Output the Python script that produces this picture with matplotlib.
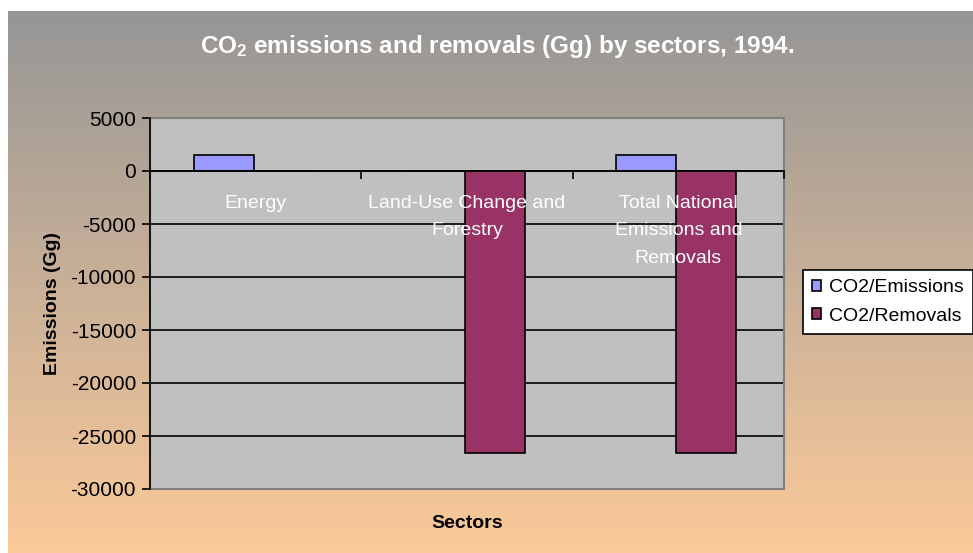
import numpy as np
import matplotlib
matplotlib.use("Agg")
import matplotlib.pyplot as plt
from matplotlib.patches import Rectangle
from matplotlib.colors import LinearSegmentedColormap

plt.rcParams['font.family'] = ['Liberation Sans', 'DejaVu Sans']
plt.rcParams['mathtext.default'] = 'regular'

# data
sectors = ["Energy", "Land-Use Change and\nForestry", "Total National\nEmissions and\nRemovals"]
emissions = [1500, 0, 1500]
removals = [0, -26650, -26650]
series_names = ["CO2/Emissions", "CO2/Removals"]
yticks = [5000, 0, -5000, -10000, -15000, -20000, -25000, -30000]

fig = plt.figure(figsize=(9.73, 5.53), dpi=100)

# gradient background (gray -> light orange)
bg = fig.add_axes([8/973, 0, 1 - 8/973, 1 - 11/553], zorder=-10)
cmap = LinearSegmentedColormap.from_list("bg", ["#969696", "#FFCC99"])
grad = np.linspace(0, 1, 256).reshape(-1, 1)
bg.imshow(grad, aspect="auto", cmap=cmap, extent=[0, 1, 0, 1], origin="upper", vmin=0, vmax=1.04)
bg.set_axis_off()

ax = fig.add_axes([150/973, 1 - 489/553, 634/973, 371/553])
ax.set_facecolor("#C0C0C0")

x = np.arange(len(sectors))
w = 0.284
ax.bar(x - w/2 - 0.01, emissions, w, color="#9999FF", edgecolor="black", linewidth=1.2, zorder=3, label=series_names[0])
ax.bar(x + w/2 - 0.01, removals, w, color="#993366", edgecolor="black", linewidth=1.2, zorder=3, label=series_names[1])

ax.set_xlim(-0.5, 2.5)
ax.set_ylim(-30000, 5000)
ax.set_yticks(yticks)
ax.set_yticklabels([str(v) for v in yticks], fontsize=15)
ax.yaxis.grid(True, color="black", linewidth=1.2)
ax.yaxis.set_zorder(1)
ax.xaxis.set_zorder(5)

# category axis sits on the zero line
ax.spines['bottom'].set_position(('data', 0))
ax.spines['bottom'].set_color("black")
ax.spines['bottom'].set_linewidth(1.2)
ax.spines['bottom'].set_zorder(4)
ax.set_xticks([-0.5, 0.5, 1.5, 2.5])
ax.set_xticklabels([])
ax.set_xticks(x, minor=True)
ax.set_xticklabels(sectors, minor=True, color="white", fontsize=14, linespacing=1.78)
ax.tick_params(axis="x", which="major", direction="out", length=6, width=1.2)
ax.tick_params(axis="x", which="minor", length=0, pad=17.5)
ax.tick_params(axis="y", direction="out", length=6, width=1.2, pad=4)

ax.spines['left'].set_color("black")
ax.spines['left'].set_linewidth(1.2)
ax.spines['left'].set_zorder(4)
for s in ['top', 'right']:
    ax.spines[s].set_visible(False)
ax.add_patch(Rectangle((0, 0), 1, 1, transform=ax.transAxes, fill=False,
                       edgecolor="#808080", linewidth=1.5, zorder=2, clip_on=False))

ax.set_ylabel("Emissions (Gg)", fontsize=14, fontweight="bold", labelpad=7)
ax.set_xlabel("Sectors", fontsize=14, fontweight="bold")
ax.xaxis.label.set_va("center")
ax.xaxis.set_label_coords(0.5, -0.094)

fig.text(497/973, 1 - 47/553, "CO$_2$ emissions and removals (Gg) by sectors, 1994.",
         color="white", fontsize=17.5, fontweight="bold", ha="center", va="center")

leg = fig.legend(loc="center left", bbox_to_anchor=(803/973, 1 - 302/553), fontsize=14,
                 frameon=True, fancybox=False, edgecolor="black", framealpha=1,
                 handlelength=0.5, handleheight=0.5, handletextpad=0.4,
                 borderpad=0.45, labelspacing=0.6, borderaxespad=0)
leg.get_frame().set_linewidth(1.2)

fig.savefig("out.png", dpi=100)
